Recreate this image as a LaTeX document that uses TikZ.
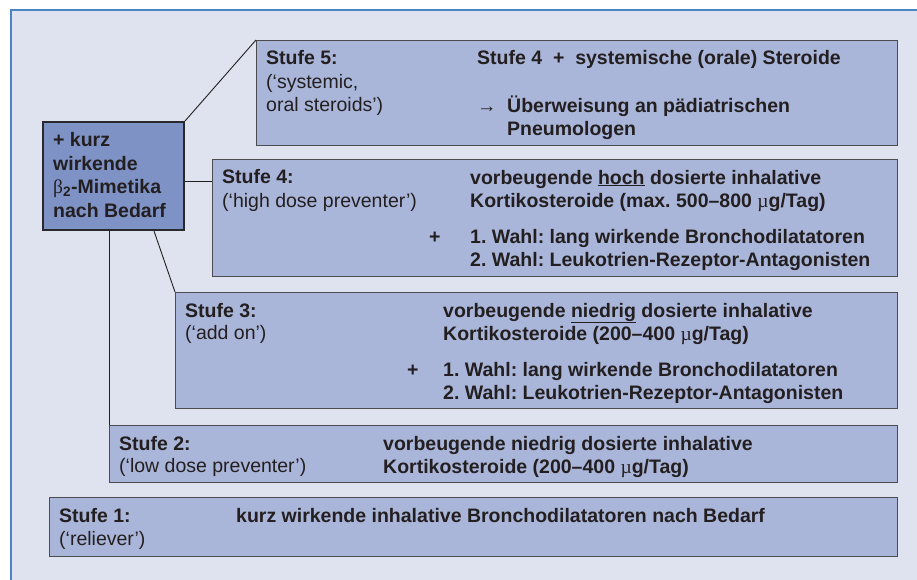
\documentclass[tikz,border=0pt]{standalone}
\usepackage{fontspec}
\setmainfont{Liberation Sans}
\newfontfamily\symfont{Liberation Serif}
\usetikzlibrary{positioning}
\definecolor{pagebg}{RGB}{223,227,240}
\definecolor{frameblue}{RGB}{74,134,198}
\definecolor{boxfill}{RGB}{170,182,217}
\definecolor{boxline}{RGB}{75,75,80}
\definecolor{midfill}{RGB}{126,146,197}
\definecolor{midline}{RGB}{40,40,45}
\definecolor{ink}{RGB}{35,31,32}
\frenchspacing

\begin{document}
\begin{tikzpicture}[x=1pt,y=-1pt]
  \tikzset{stufebox/.style = {draw=boxline, fill=boxfill, line width=1.1pt, anchor=north west, inner sep=0pt}}
  \tikzset{midbox/.style = {draw=midline, fill=midfill, line width=2pt, anchor=north west, inner sep=0pt}}
  \tikzset{txt/.style = {anchor=base west, inner sep=0pt, align=left, text=ink, font=\fontsize{19.5pt}{23pt}\selectfont\bfseries}}
  \tikzset{gloss/.style = {txt, font=\fontsize{19.5pt}{23pt}\selectfont}}
  \tikzset{link/.style = {draw=ink, line width=0.9pt}}

  \useasboundingbox (0,0) rectangle (917,580);
  \fill[pagebg] (11,10) rectangle (917,580);
  \draw[frameblue, line width=1.6pt] (11,580) -- (11,10) -- (917,10);

  % steps (multi-line texts sit on the baseline of their last line)
  \foreach \name/\x/\y/\w/\h in {S5/256/40/641/105, S4/212/159/685/117, S3/175/292/722/116, S2/109/425/788/57, S1/49/497/848/59}
    \node[stufebox, minimum width=\w pt, minimum height=\h pt] (\name) at (\x,\y) {};
  \node[midbox, minimum width=141pt, minimum height=108pt] (mid) at (42,121) {};

  \draw[link] (mid.north east) -- (S5.north west);
  \draw[link] ([yshift=-5pt]mid.east) -- ([yshift=-5pt]mid.east -| S4.west);
  \draw[link] ([xshift=-31pt]mid.south east) -- (S3.north west);
  \draw[link] (mid.south -| S2.north west) -- (S2.north west);

  \node[txt, font=\fontsize{19.5pt}{23.5pt}\selectfont\bfseries] (midtxt) at (53,217) {+ kurz\\wirkende\\{\symfont\mdseries β}\textsubscript{2}-Mimetika\\nach Bedarf};

  \node[txt] (s5head) at (266,65) {Stufe 5:};
  \node[gloss] (s5gloss) at (266,112) {(‘systemic,\\oral steroids’)};
  \node[txt] (s5main) at (477,65) {Stufe 4\ \ +\ \ systemische (orale) Steroide};
  \node[gloss] (s5arrow) at (477,113) {→};
  \node[txt] (s5ref) at (507,136) {Überweisung an pädiatrischen\\Pneumologen};

  \node[txt] (s4head) at (222,183) {Stufe 4:};
  \node[gloss] (s4gloss) at (222,207) {(‘high dose preventer’)};
  \node[txt] (s4main) at (470,207) {vorbeugende \underline{hoch} dosierte inhalative\\Kortikosteroide (max. 500–800 {\symfont\mdseries µ}g/Tag)};
  \node[txt] (s4plus) at (429,243) {+};
  \node[txt] (s4add) at (470,266) {1. Wahl: lang wirkende Bronchodilatatoren\\2. Wahl: Leukotrien-Rezeptor-Antagonisten};

  \node[txt] (s3head) at (185,317) {Stufe 3:};
  \node[gloss] (s3gloss) at (185,339) {(‘add on’)};
  \node[txt] (s3main) at (443,340) {vorbeugende \underline{niedrig} dosierte inhalative\\Kortikosteroide (200–400 {\symfont\mdseries µ}g/Tag)};
  \node[txt] (s3plus) at (407,376) {+};
  \node[txt] (s3add) at (443,399) {1. Wahl: lang wirkende Bronchodilatatoren\\2. Wahl: Leukotrien-Rezeptor-Antagonisten};

  \node[txt] (s2head) at (119,450) {Stufe 2:};
  \node[gloss] (s2gloss) at (119,472) {(‘low dose preventer’)};
  \node[txt] (s2main) at (383,473) {vorbeugende niedrig dosierte inhalative\\Kortikosteroide (200–400 {\symfont\mdseries µ}g/Tag)};

  \node[txt] (s1head) at (59,522) {Stufe 1:};
  \node[gloss] (s1gloss) at (59,545) {(‘reliever’)};
  \node[txt] (s1main) at (236,522) {kurz wirkende inhalative Bronchodilatatoren nach Bedarf};
\end{tikzpicture}
\end{document}
